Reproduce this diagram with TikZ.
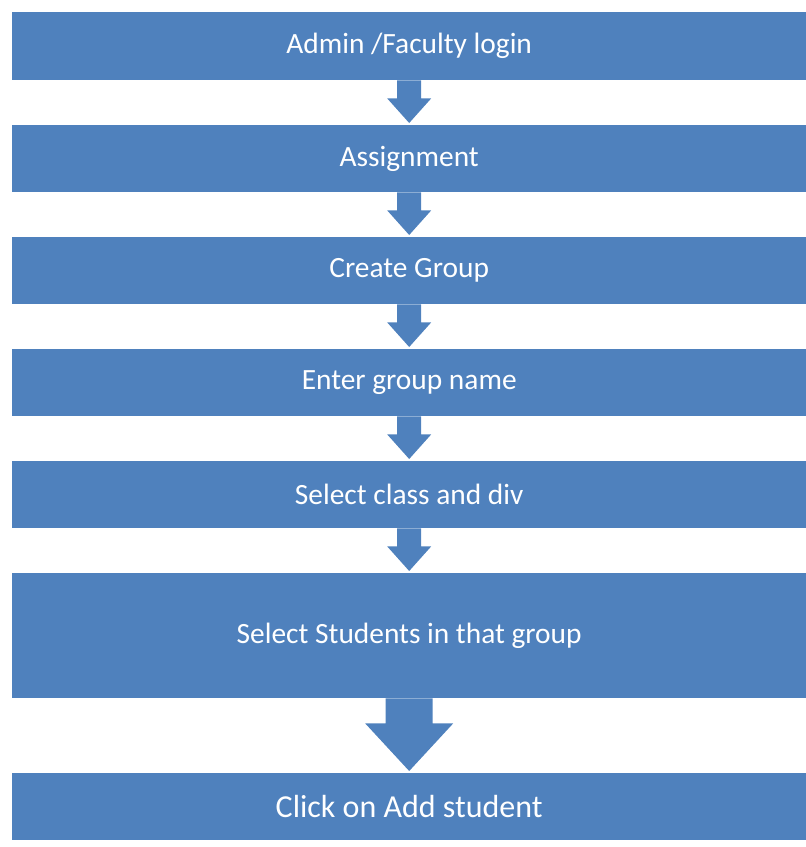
\documentclass[tikz,border=0pt]{standalone}
\usepackage{fontspec}
\setmainfont{Carlito}
\usetikzlibrary{calc}
\definecolor{boxblue}{HTML}{4F81BD}
\tikzset{
  stepbox/.style={fill=boxblue, draw=none, text=white, anchor=north west, inner sep=0pt,
    minimum width=794pt, font=\fontsize{29.4}{34}\selectfont},
  flowarrow/.style={fill=boxblue, draw=none},
}
% #1 upper node, #2 lower node, #3 shaft half width, #4 head half width, #5 shaft length
\newcommand{\myblockarrow}[5]{%
  \fill[flowarrow]
    ($(#1.south)+(-#3,0)$) -- ($(#1.south)+(-#3,#5)$) -- ($(#1.south)+(-#4,#5)$)
    -- ($(#2.north)+(0,-2)$)
    -- ($(#1.south)+(#4,#5)$) -- ($(#1.south)+(#3,#5)$) -- ($(#1.south)+(#3,0)$) -- cycle;}
\begin{document}
\begin{tikzpicture}[x=1pt,y=-1pt]
\useasboundingbox (0,0) rectangle (806,847);
\node[stepbox, minimum height=68pt] (b1) at (12,12) {Admin /Faculty login};
\node[stepbox, minimum height=67pt] (b2) at (12,125) {Assignment};
\node[stepbox, minimum height=67pt] (b3) at (12,237) {Create Group};
\node[stepbox, minimum height=67pt] (b4) at (12,349) {Enter group name};
\node[stepbox, minimum height=67pt] (b5) at (12,461) {Select class and div};
\node[stepbox, minimum height=125pt] (b6) at (12,573) {Select Students in that group};
\node[stepbox, minimum height=67pt, font=\fontsize{32}{36}\selectfont] (b7) at (12,773) {Click on Add student};
\myblockarrow{b1}{b2}{12}{22}{18}
\myblockarrow{b2}{b3}{12}{22}{18}
\myblockarrow{b3}{b4}{12}{22}{18}
\myblockarrow{b4}{b5}{12}{22}{18}
\myblockarrow{b5}{b6}{12}{22}{18}
\myblockarrow{b6}{b7}{23.5}{44}{25}
\end{tikzpicture}
\end{document}
